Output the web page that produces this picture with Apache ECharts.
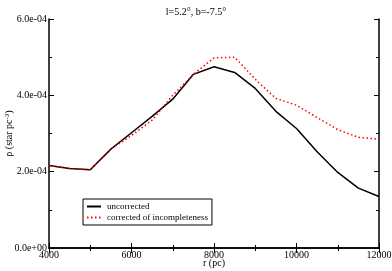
<!DOCTYPE html>
<html><head><meta charset="utf-8">
<script src="https://cdn.jsdelivr.net/npm/echarts@6/dist/echarts.min.js"></script>
<style>html,body{margin:0;padding:0;background:#fff}#c{width:392px;height:271px}</style>
</head><body><div id="c"></div>
<script>
const radius = [4000,4500,5000,5500,6000,6500,7000,7500,8000,8500,9000,9500,10000,10500,11000,11500,12000];
const uncorrected = [2.16e-4,2.08e-4,2.05e-4,2.59e-4,3.02e-4,3.45e-4,3.90e-4,4.55e-4,4.75e-4,4.60e-4,4.18e-4,3.58e-4,3.13e-4,2.52e-4,1.98e-4,1.57e-4,1.35e-4];
const corrected = [2.16e-4,2.08e-4,2.05e-4,2.59e-4,2.95e-4,3.35e-4,4.00e-4,4.55e-4,4.98e-4,5.00e-4,4.42e-4,3.92e-4,3.74e-4,3.42e-4,3.10e-4,2.90e-4,2.85e-4];
const yTickLabels = ['0.0e+00','2.0e-04','4.0e-04','6.0e-04'];
const xTickLabels = ['4000','6000','8000','10000','12000'];

const font = 'Liberation Serif';
const chart = echarts.init(document.getElementById('c'), null, {renderer:'canvas'});
const axisCommon = {
  axisLine:{show:true,lineStyle:{color:'#000',width:1.5}},
  axisTick:{show:true,inside:true,length:5,lineStyle:{color:'#000',width:1}},
  minorTick:{show:true,splitNumber:2,length:3,lineStyle:{color:'#000',width:1}},
  splitLine:{show:false}
};
const xBase = {type:'value',min:4000,max:12000,interval:2000};
const yBase = {type:'value',min:0,max:6e-4,interval:2e-4};
chart.setOption({
  animation:false,
  title:{text:'l=5.2°, b=-7.5°',left:'center',top:2,textStyle:{fontFamily:font,fontSize:10,fontWeight:'normal',color:'#000'}},
  grid:{left:49,right:13,top:19,bottom:23,containLabel:false,outerBoundsMode:'none'},
  legend:{
    orient:'vertical',left:83,top:199,
    itemWidth:14,itemHeight:8,itemGap:2,
    padding:[3,4,3,3],
    borderColor:'#000',borderWidth:1,
    itemStyle:{opacity:0},
    textStyle:{fontFamily:font,fontSize:9,color:'#000',padding:[0,0,0,1]},
    data:['uncorrected','corrected of incompleteness']
  },
  xAxis:[
    Object.assign({},xBase,axisCommon,{position:'bottom',
      name:'r (pc)',nameLocation:'middle',nameGap:10,nameMoveOverlap:false,
      nameTextStyle:{fontFamily:font,fontSize:10,color:'#000'},
      axisLabel:{margin:2,fontFamily:font,fontSize:10,color:'#000',
        formatter:v=>xTickLabels[Math.round((v-4000)/2000)]}}),
    Object.assign({},xBase,axisCommon,{position:'top',axisLabel:{show:false}})
  ],
  yAxis:[
    Object.assign({},yBase,axisCommon,{position:'left',
      name:'{a|ρ (star pc}{b|-3}{a|)}',nameLocation:'middle',nameGap:35,nameMoveOverlap:false,
      nameTextStyle:{fontFamily:font,fontSize:10,color:'#000',
        rich:{a:{fontFamily:font,fontSize:10,color:'#000'},b:{fontFamily:font,fontSize:7,color:'#000',verticalAlign:'top'}}},
      axisLabel:{margin:2,fontFamily:font,fontSize:10,color:'#000',
        formatter:v=>yTickLabels[Math.round(v/2e-4)]}}),
    Object.assign({},yBase,axisCommon,{position:'right',axisLabel:{show:false}})
  ],
  series:[
    {name:'uncorrected',type:'line',symbol:'none',data:radius.map((r,i)=>[r,uncorrected[i]]),
      lineStyle:{color:'#000',width:1.5},itemStyle:{color:'#000'}},
    {name:'corrected of incompleteness',type:'line',symbol:'none',data:radius.map((r,i)=>[r,corrected[i]]),
      lineStyle:{color:'#ff0000',width:1.5,type:[1.5,2.5]},itemStyle:{color:'#ff0000'}}
  ]
});
</script></body></html>
